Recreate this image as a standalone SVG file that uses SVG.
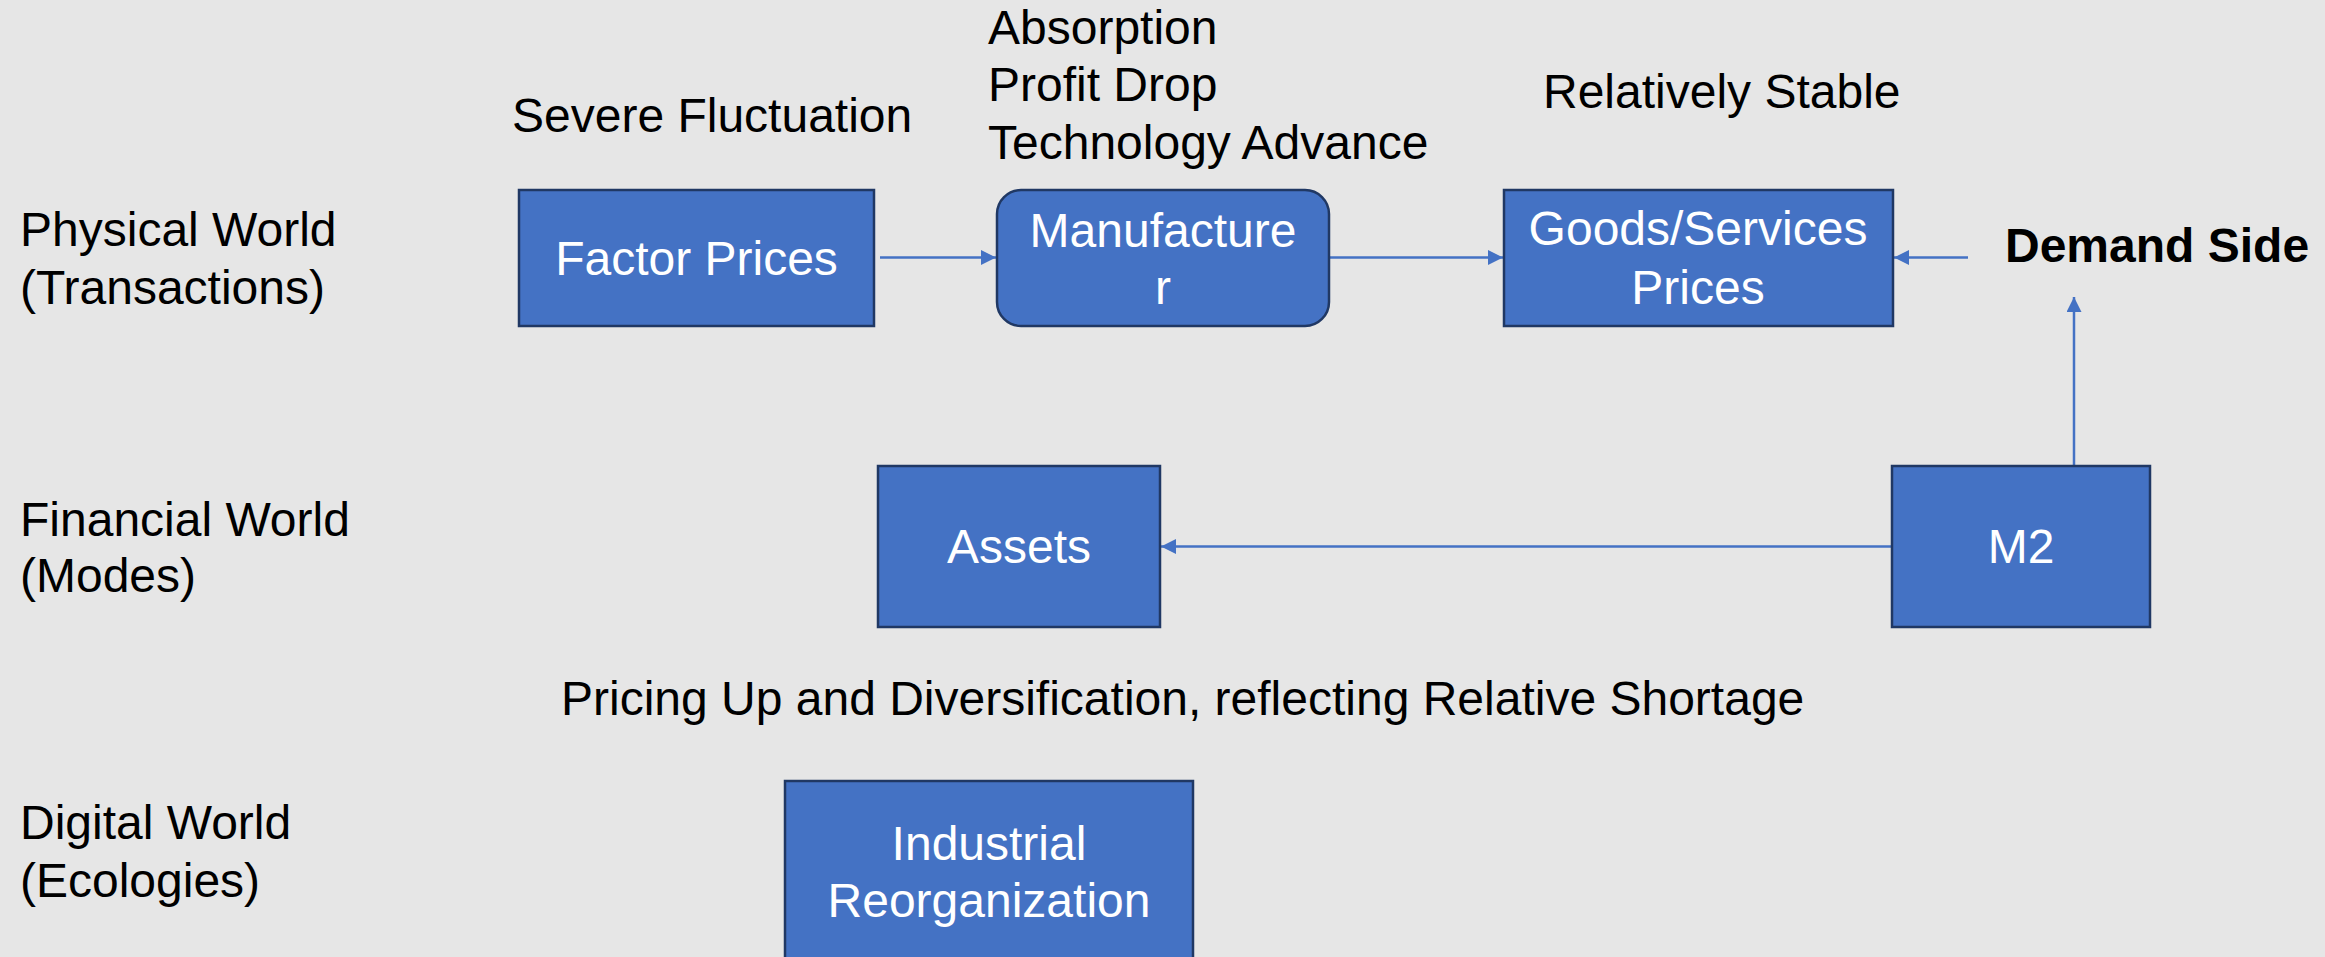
<svg xmlns="http://www.w3.org/2000/svg" width="2325" height="957" viewBox="0 0 2325 957">
<style>
.bg{fill:#E6E6E6}
.box{fill:#4472C4;stroke:#203864;stroke-width:2.5}
.t{font-family:"Liberation Sans",Arial,sans-serif;font-size:48px;fill:#000}
.w{font-family:"Liberation Sans",Arial,sans-serif;font-size:48px;fill:#FFFFFF;text-anchor:middle}
.b{font-weight:bold}
.edge{stroke:#4472C4;stroke-width:2.5;fill:none;marker-end:url(#arr)}
</style>
<defs>
<marker id="arr" markerUnits="userSpaceOnUse" markerWidth="16" markerHeight="16" refX="15" refY="7.5" orient="auto">
<path d="M0,0 L15,7.5 L0,15 Z" fill="#4472C4"/>
</marker>
</defs>
<rect class="bg" x="0" y="0" width="2325" height="957"/>
<g id="labels">
<text class="t" x="20" y="246">Physical World</text>
<text class="t" x="20" y="304">(Transactions)</text>
<text class="t" x="20" y="536">Financial World</text>
<text class="t" x="20" y="592">(Modes)</text>
<text class="t" x="20" y="839">Digital World</text>
<text class="t" x="20" y="897">(Ecologies)</text>
<text class="t" x="512" y="132">Severe Fluctuation</text>
<text class="t" x="988" y="44">Absorption</text>
<text class="t" x="988" y="101">Profit Drop</text>
<text class="t" x="988" y="159">Technology Advance</text>
<text class="t" x="1543" y="108">Relatively Stable</text>
<text class="t" x="561" y="715">Pricing Up and Diversification, reflecting Relative Shortage</text>
</g>
<g id="connectors">
<line class="edge" x1="880" y1="257.5" x2="996" y2="257.5"/>
<line class="edge" x1="1330" y1="257.5" x2="1503" y2="257.5"/>
<line class="edge" x1="1968" y1="257.5" x2="1894" y2="257.5"/>
<line class="edge" x1="2074" y1="465" x2="2074" y2="297"/>
<line class="edge" x1="1891" y1="546.5" x2="1161" y2="546.5"/>
</g>
<g id="factor-prices">
<rect class="box" x="519" y="190" width="355" height="136"/>
<text class="w" x="696.5" y="275">Factor Prices</text>
</g>
<g id="manufacturer">
<rect class="box" x="997" y="190" width="332" height="136" rx="24" ry="24"/>
<text class="w" x="1163" y="247">Manufacture</text>
<text class="w" x="1163" y="304">r</text>
</g>
<g id="goods-services">
<rect class="box" x="1504" y="190" width="389" height="136"/>
<text class="w" x="1698" y="245">Goods/Services</text>
<text class="w" x="1698" y="304">Prices</text>
</g>
<g id="demand-side">
<text class="t b" x="2005" y="262">Demand Side</text>
</g>
<g id="assets">
<rect class="box" x="878" y="466" width="282" height="161"/>
<text class="w" x="1019" y="563">Assets</text>
</g>
<g id="m2">
<rect class="box" x="1892" y="466" width="258" height="161"/>
<text class="w" x="2021" y="563">M2</text>
</g>
<g id="industrial-reorganization">
<rect class="box" x="785" y="781" width="408" height="200"/>
<text class="w" x="989" y="860">Industrial</text>
<text class="w" x="989" y="917">Reorganization</text>
</g>
</svg>
